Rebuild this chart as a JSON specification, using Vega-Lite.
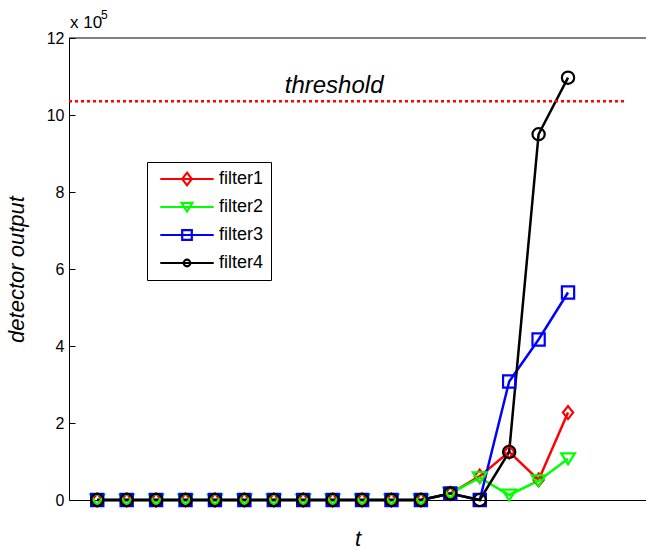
{
  "$schema": "https://vega.github.io/schema/vega-lite/v6.json",
  "width": 577,
  "height": 462,
  "autosize": {"type": "none"},
  "padding": {"left": 69, "top": 38, "right": 0, "bottom": 50},
  "background": "white",
  "config": {
    "view": {"stroke": null},
    "font": "Liberation Sans",
    "axis": {
      "grid": false,
      "domainColor": "black",
      "domainWidth": 1,
      "tickColor": "black",
      "labelColor": "black",
      "labelFont": "Liberation Sans",
      "labelFontSize": 16,
      "titleFont": "Liberation Sans",
      "titleFontStyle": "italic",
      "titleFontWeight": "normal",
      "titleColor": "black"
    },
    "legend": {
      "orient": "none", "legendX": 78, "legendY": 124,
      "padding": 7, "strokeColor": "black", "fillColor": "white", "cornerRadius": 0,
      "labelFontSize": 18, "labelFont": "Liberation Sans", "labelColor": "black",
      "symbolSize": 144, "symbolStrokeWidth": 2.2, "symbolOffset": 24, "labelOffset": 23,
      "rowPadding": 8, "clipHeight": 20
    }
  },
  "datasets": {
    "series": [
      {"t": 1, "filter": "filter1", "v": 0}, {"t": 2, "filter": "filter1", "v": 0}, {"t": 3, "filter": "filter1", "v": 0}, {"t": 4, "filter": "filter1", "v": 0},
      {"t": 5, "filter": "filter1", "v": 0}, {"t": 6, "filter": "filter1", "v": 0}, {"t": 7, "filter": "filter1", "v": 0}, {"t": 8, "filter": "filter1", "v": 0},
      {"t": 9, "filter": "filter1", "v": 0}, {"t": 10, "filter": "filter1", "v": 0}, {"t": 11, "filter": "filter1", "v": 0}, {"t": 12, "filter": "filter1", "v": 0},
      {"t": 13, "filter": "filter1", "v": 0.17}, {"t": 14, "filter": "filter1", "v": 0.62}, {"t": 15, "filter": "filter1", "v": 1.25}, {"t": 16, "filter": "filter1", "v": 0.52},
      {"t": 17, "filter": "filter1", "v": 2.27},
      {"t": 1, "filter": "filter2", "v": 0}, {"t": 2, "filter": "filter2", "v": 0}, {"t": 3, "filter": "filter2", "v": 0}, {"t": 4, "filter": "filter2", "v": 0},
      {"t": 5, "filter": "filter2", "v": 0}, {"t": 6, "filter": "filter2", "v": 0}, {"t": 7, "filter": "filter2", "v": 0}, {"t": 8, "filter": "filter2", "v": 0},
      {"t": 9, "filter": "filter2", "v": 0}, {"t": 10, "filter": "filter2", "v": 0}, {"t": 11, "filter": "filter2", "v": 0}, {"t": 12, "filter": "filter2", "v": 0},
      {"t": 13, "filter": "filter2", "v": 0.17}, {"t": 14, "filter": "filter2", "v": 0.58}, {"t": 15, "filter": "filter2", "v": 0.13}, {"t": 16, "filter": "filter2", "v": 0.5},
      {"t": 17, "filter": "filter2", "v": 1.07},
      {"t": 1, "filter": "filter3", "v": 0}, {"t": 2, "filter": "filter3", "v": 0}, {"t": 3, "filter": "filter3", "v": 0}, {"t": 4, "filter": "filter3", "v": 0},
      {"t": 5, "filter": "filter3", "v": 0}, {"t": 6, "filter": "filter3", "v": 0}, {"t": 7, "filter": "filter3", "v": 0}, {"t": 8, "filter": "filter3", "v": 0},
      {"t": 9, "filter": "filter3", "v": 0}, {"t": 10, "filter": "filter3", "v": 0}, {"t": 11, "filter": "filter3", "v": 0}, {"t": 12, "filter": "filter3", "v": 0},
      {"t": 13, "filter": "filter3", "v": 0.17}, {"t": 14, "filter": "filter3", "v": 0}, {"t": 15, "filter": "filter3", "v": 3.08}, {"t": 16, "filter": "filter3", "v": 4.17},
      {"t": 17, "filter": "filter3", "v": 5.39},
      {"t": 1, "filter": "filter4", "v": 0}, {"t": 2, "filter": "filter4", "v": 0}, {"t": 3, "filter": "filter4", "v": 0}, {"t": 4, "filter": "filter4", "v": 0},
      {"t": 5, "filter": "filter4", "v": 0}, {"t": 6, "filter": "filter4", "v": 0}, {"t": 7, "filter": "filter4", "v": 0}, {"t": 8, "filter": "filter4", "v": 0},
      {"t": 9, "filter": "filter4", "v": 0}, {"t": 10, "filter": "filter4", "v": 0}, {"t": 11, "filter": "filter4", "v": 0}, {"t": 12, "filter": "filter4", "v": 0},
      {"t": 13, "filter": "filter4", "v": 0.17}, {"t": 14, "filter": "filter4", "v": 0}, {"t": 15, "filter": "filter4", "v": 1.25}, {"t": 16, "filter": "filter4", "v": 9.5},
      {"t": 17, "filter": "filter4", "v": 10.97}
    ],
    "notes": [{"label": "threshold", "t": 9.05, "v": 10.58}]
  },
  "layer": [
    {
      "data": {"name": "series"},
      "mark": {"type": "line", "strokeWidth": 2.5},
      "encoding": {
        "x": {"field": "t", "type": "quantitative", "scale": {"domain": [0.04, 19.65], "nice": false, "zero": false},
              "axis": {"labels": false, "ticks": false, "title": "t", "titleFontSize": 22, "titlePadding": 28}},
        "y": {"field": "v", "type": "quantitative", "scale": {"domain": [0, 12], "nice": false},
              "axis": {"values": [0, 2, 4, 6, 8, 10, 12], "tickSize": -6, "labelPadding": 11, "title": "detector output", "titleFontSize": 22, "titlePadding": 18}},
        "color": {"field": "filter", "type": "nominal",
          "scale": {"domain": ["filter1", "filter2", "filter3", "filter4"], "range": ["#ff0000", "#00ff00", "#0000ff", "#000000"]},
          "legend": {"title": null,
            "encode": {"symbols": {"update": {"fill": {"value": "transparent"}, "shape": {"signal": "datum.value === 'filter1' ? 'M-4.45,0H4.45M0,-1.05L0.8,0L0,1.05L-0.8,0Z' : datum.value === 'filter2' ? 'M-4.45,0H4.45M-0.9,-0.7L0.9,-0.7L0,0.75Z' : datum.value === 'filter3' ? 'M-4.45,0H4.45M-0.8,-0.8H0.8V0.8H-0.8Z' : 'M-4.45,0H4.45M0.55,0A0.55,0.55,0,1,1,-0.55,0A0.55,0.55,0,1,1,0.55,0Z'"}}}}}
        }
      }
    },
    {
      "data": {"name": "series"},
      "mark": {"type": "point", "filled": false, "strokeWidth": 2.2, "size": 144, "opacity": 1},
      "encoding": {
        "x": {"field": "t", "type": "quantitative"},
        "y": {"field": "v", "type": "quantitative"},
        "color": {"field": "filter", "type": "nominal",
          "legend": {"title": null,
            "encode": {"symbols": {"update": {"fill": {"value": "transparent"}, "shape": {"signal": "datum.value === 'filter1' ? 'M-4.45,0H4.45M0,-1.05L0.8,0L0,1.05L-0.8,0Z' : datum.value === 'filter2' ? 'M-4.45,0H4.45M-0.9,-0.7L0.9,-0.7L0,0.75Z' : datum.value === 'filter3' ? 'M-4.45,0H4.45M-0.8,-0.8H0.8V0.8H-0.8Z' : 'M-4.45,0H4.45M0.55,0A0.55,0.55,0,1,1,-0.55,0A0.55,0.55,0,1,1,0.55,0Z'"}}}}}},
        "shape": {"field": "filter", "type": "nominal", "legend": null,
          "scale": {"domain": ["filter4", "filter3", "filter2", "filter1"],
                    "range": ["M1.02,0A1.02,1.02,0,1,1,-1.02,0A1.02,1.02,0,1,1,1.02,0Z", "M-1.02,-1.02H1.02V1.02H-1.02Z", "M-1.15,-0.9L1.15,-0.9L0,0.9Z", "M0,-1.08L0.85,0L0,1.08L-0.85,0Z"]}}
      }
    },
    {
      "data": {"values": [{}]},
      "mark": {"type": "rule", "color": "black", "strokeWidth": 1},
      "encoding": {"y": {"datum": 12, "type": "quantitative"}}
    },
    {
      "data": {"values": [{}]},
      "mark": {"type": "rule", "color": "#ff0000", "strokeWidth": 2.5, "strokeDash": [3, 3]},
      "encoding": {"x": {"datum": 0.04, "type": "quantitative"}, "x2": {"datum": 19}, "y": {"datum": 10.36, "type": "quantitative"}}
    },
    {
      "data": {"name": "notes"},
      "mark": {"type": "text", "fontSize": 24, "fontStyle": "italic", "align": "center", "baseline": "alphabetic", "color": "black", "font": "Liberation Sans"},
      "encoding": {"x": {"field": "t", "type": "quantitative"}, "y": {"field": "v", "type": "quantitative"}, "text": {"field": "label"}}
    },
    {
      "data": {"values": [{}]},
      "mark": {"type": "text", "text": "x 10", "fontSize": 17, "align": "left", "baseline": "alphabetic", "dx": 1, "dy": -10, "color": "black", "font": "Liberation Sans"},
      "encoding": {"x": {"datum": 0.04, "type": "quantitative"}, "y": {"datum": 12, "type": "quantitative"}}
    },
    {
      "data": {"values": [{}]},
      "mark": {"type": "text", "text": "5", "fontSize": 12, "align": "left", "baseline": "alphabetic", "dx": 32, "dy": -19, "color": "black", "font": "Liberation Sans"},
      "encoding": {"x": {"datum": 0.04, "type": "quantitative"}, "y": {"datum": 12, "type": "quantitative"}}
    }
  ]
}
